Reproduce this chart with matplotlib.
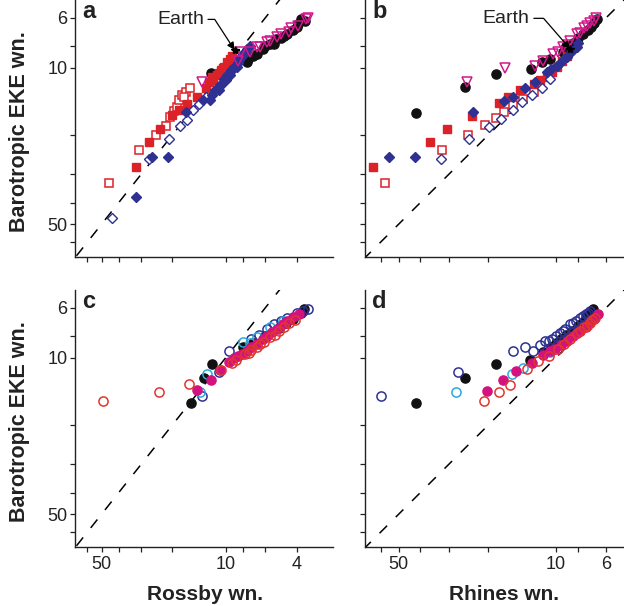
import matplotlib
matplotlib.use('Agg')
import matplotlib.pyplot as plt
import matplotlib.ticker as ticker
import numpy as np

plt.rcParams['font.family'] = ['Liberation Sans', 'DejaVu Sans']

RED = '#dc2229'
NAVY = '#2e3192'
MAG = '#d2188c'
BLACK = '#111111'
CYAN = '#2aa9e0'
PINK = '#d4127f'
ORANGE_RED = '#e0362c'

# ---------------- panel a : Rossby wn. vs barotropic EKE wn. ----------------
a_sq_open_x = [45.6, 30.6, 24.6, 21.8, 20.5, 19.6, 18.8, 18.3, 17.6, 16.8, 16.0, 17.2]
a_sq_open_y = [32.9, 23.3, 20.0, 18.2, 16.6, 15.6, 15.0, 14.0, 13.3, 12.9, 12.3, 13.6]
a_sq_fill_x = [32.0, 27.0, 23.6, 20.2, 18.3, 16.5, 14.5, 13.0, 12.5, 11.9, 11.8, 11.2,
               10.9, 10.7, 10.4, 10.2, 9.8, 9.5, 9.2]
a_sq_fill_y = [27.9, 21.5, 18.9, 16.3, 15.5, 14.6, 13.5, 12.4, 11.6, 11.0, 11.4, 10.8,
               10.6, 10.3, 10.0, 9.9, 9.47, 9.2, 8.85]
a_dm_fill_x = [32.0, 26.0, 21.2, 16.8, 13.5, 12.3, 12.0, 11.5, 11.0, 10.8, 10.7, 10.3,
               10.0, 9.8, 9.5, 9.4, 9.2, 9.0, 8.7, 8.6, 8.4, 8.2, 8.0, 7.9, 7.8, 7.6, 7.3]
a_dm_fill_y = [37.9, 25.1, 25.1, 15.8, 14.0, 13.9, 13.2, 12.6, 12.6, 12.0, 12.0, 11.3,
               11.4, 10.8, 10.8, 10.3, 10.3, 9.9, 9.97, 9.5, 9.3, 9.0, 8.7, 8.6, 8.6, 8.3, 8.0]
a_dm_open_x = [43.6, 27.0, 20.8, 18.0, 16.5, 15.3, 14.2, 13.0]
a_dm_open_y = [47.1, 25.6, 20.9, 18.2, 17.2, 15.5, 14.5, 13.5]
a_circ_x = [12.2, 7.65, 7.5, 7.0, 6.7, 6.2, 6.0, 5.62, 5.38, 5.2, 4.9, 4.7, 4.51, 4.2,
            4.0, 3.95, 3.78, 3.6]
a_circ_y = [10.6, 9.47, 9.16, 8.9, 8.69, 8.3, 8.0, 7.85, 7.85, 7.5, 7.4, 7.2, 7.10, 6.8,
            6.6, 6.41, 6.09, 6.2]
a_tri_x = [13.6, 8.55, 8.18, 7.33, 6.7, 6.41, 5.87, 5.62, 5.14, 4.93, 4.42, 4.32, 3.95,
           3.54, 3.46]
a_tri_y = [11.6, 9.31, 8.55, 8.55, 8.13, 8.13, 7.73, 7.60, 7.34, 7.10, 6.98, 6.64, 6.52,
           6.09, 5.99]
a_earth = (8.94, 8.35)

# ---------------- panel b : Rhines wn. vs barotropic EKE wn. ----------------
b_sq_open_x = [57.5, 32.2, 24.5, 20.7, 18.5, 17.0, 15.5, 14.0, 12.6]
b_sq_open_y = [32.9, 23.3, 20.0, 18.1, 16.8, 15.8, 14.7, 13.8, 12.9]
b_sq_fill_x = [64.9, 36.3, 30.4, 23.6, 18.0, 16.3, 14.5, 12.6, 11.8, 11.0, 10.4, 9.93,
               9.4, 8.96]
b_sq_fill_y = [27.9, 21.5, 18.9, 16.4, 14.4, 13.5, 12.6, 11.9, 11.4, 11.0, 10.5, 9.97,
               9.4, 8.85]
b_dm_fill_x = [55.1, 42.4, 23.3, 17.1, 15.6, 13.7, 12.4, 11.0, 10.5, 9.93, 9.6, 9.0,
               8.96, 8.5, 8.09, 8.0]
b_dm_fill_y = [25.1, 25.1, 15.8, 14.1, 13.5, 12.4, 11.6, 10.5, 10.2, 9.8, 9.5, 9.0,
               9.0, 8.4, 8.13, 7.8]
b_dm_open_x = [32.5, 24.4, 19.8, 17.6, 15.6, 14.2, 12.8, 11.6, 10.6]
b_dm_open_y = [25.6, 20.9, 18.4, 17.0, 15.5, 14.3, 13.3, 12.3, 11.3]
b_circ_x = [41.9, 25.4, 18.5, 12.9, 11.6, 10.6, 9.3, 9.0, 8.4, 8.0, 7.6, 7.2, 7.0,
            6.8, 6.6]
b_circ_y = [15.9, 12.2, 10.7, 10.2, 9.47, 9.16, 8.5, 8.0, 7.8, 7.4, 7.1, 6.8, 6.6,
            6.3, 6.09]
b_tri_x = [24.8, 16.9, 12.4, 11.4, 10.3, 9.8, 9.28, 8.9, 8.67, 8.09, 7.8, 7.56, 7.3,
           7.06, 6.8, 6.64]
b_tri_y = [11.6, 10.1, 9.8, 9.31, 8.69, 8.5, 8.13, 7.9, 7.60, 7.10, 7.0, 6.64, 6.5,
           6.31, 6.2, 6.02]
b_earth = (8.67, 8.26)

# ---------------- panel c : Rossby wn. ----------------
c_black_x = [15.8, 13.3, 12.0, 8.0, 7.0, 6.0, 5.0, 4.6, 4.2, 3.8, 3.62]
c_black_y = [16.0, 12.3, 10.7, 9.0, 8.6, 8.0, 7.4, 7.0, 6.7, 6.3, 6.09]
c_navy_x = [13.7, 10.9, 9.64, 7.2, 6.5, 5.9, 5.38, 4.9, 4.51, 4.0, 3.7, 3.46]
c_navy_y = [14.8, 11.6, 9.4, 8.3, 7.9, 7.5, 7.10, 6.9, 6.64, 6.3, 6.2, 6.09]
c_cyan_x = [13.9, 12.7, 8.0, 7.3, 6.7, 5.62, 4.8]
c_cyan_y = [14.2, 11.8, 8.55, 8.6, 8.13, 7.34, 6.9]
c_pink_x = [14.6, 12.1, 10.8, 9.64, 9.0, 8.55, 8.1, 7.65, 7.2, 6.7, 6.2, 5.87, 5.5,
            5.14, 4.8, 4.51, 4.2, 3.87]
c_pink_y = [14.0, 12.6, 11.4, 10.5, 10.1, 9.8, 9.6, 9.31, 9.0, 8.69, 8.3, 8.0, 7.7,
            7.46, 7.1, 6.86, 6.6, 6.41]
c_red_x = [49.3, 23.8, 16.2, 10.7, 9.3, 8.74, 7.83, 7.4, 7.2, 6.7, 6.4, 6.1, 5.62, 5.3,
           5.0, 4.7, 4.4, 4.1]
c_red_y = [15.7, 14.2, 13.1, 11.4, 10.6, 10.3, 9.63, 9.5, 9.3, 9.0, 8.7, 8.5, 8.13,
           7.9, 7.6, 7.3, 7.0, 6.8]

# ---------------- panel d : Rhines wn. ----------------
d_black_x = [41.9, 25.4, 18.5, 13.1, 11.4, 10.5, 10.0, 9.5, 9.0, 8.5, 8.0, 7.7, 7.4,
             7.1, 6.83]
d_black_y = [16.0, 12.3, 10.7, 10.3, 9.47, 9.0, 8.6, 8.3, 7.9, 7.6, 7.2, 7.0, 6.6,
             6.4, 6.09]
d_navy_x = [60.1, 27.4, 15.5, 13.8, 12.7, 11.8, 11.2, 10.8, 10.4, 10.0, 9.6, 9.3, 9.1,
            8.67, 8.4, 8.2, 7.82, 7.6, 7.4, 7.2, 7.06]
d_navy_y = [14.9, 11.6, 9.4, 9.0, 9.31, 8.8, 8.47, 8.4, 8.26, 8.0, 7.80, 7.6, 7.5,
            7.10, 7.0, 6.9, 6.64, 6.5, 6.4, 6.3, 6.19]
d_cyan_x = [27.8, 15.7, 14.0, 10.6]
d_cyan_y = [14.3, 11.8, 11.1, 9.47]
d_pink_x = [20.3, 17.3, 15.1, 12.8, 11.4, 10.7, 10.1, 9.5, 8.96, 8.4, 8.1, 7.82, 7.4,
            7.06, 6.8, 6.49]
d_pink_y = [14.1, 12.6, 11.5, 10.6, 9.7, 9.4, 9.16, 8.8, 8.41, 8.0, 7.8, 7.60, 7.3,
            6.98, 6.7, 6.37]
d_red_x = [21.0, 18.0, 16.1, 13.5, 12.0, 10.8, 9.77, 9.2, 8.67, 8.1, 7.8, 7.56, 7.3,
           7.1, 6.9, 6.71]
d_red_y = [15.7, 14.2, 13.2, 11.3, 10.4, 9.8, 9.16, 8.7, 8.26, 7.8, 7.6, 7.34, 7.2,
           7.0, 6.8, 6.64]

y_ticks = [60, 50, 40, 30, 20, 10, 8, 6]
y_labels = [50, 10, 6]
ross_ticks = [60, 50, 40, 30, 20, 10, 8, 6, 4]
ross_labels = [50, 10, 4]
rhin_ticks = [60, 50, 40, 30, 20, 10, 8, 6]
rhin_labels = [50, 10, 6]


def setup(ax, xlim, xticks, xlabels, show_x, show_y, letter):
    ax.set_xscale('log')
    ax.set_yscale('log')
    ax.set_xlim(*xlim)
    ax.set_ylim(70, 5.0)
    ax.xaxis.set_minor_locator(ticker.NullLocator())
    ax.yaxis.set_minor_locator(ticker.NullLocator())
    ax.set_xticks(xticks)
    ax.set_xticklabels([str(t) if (show_x and t in xlabels) else '' for t in xticks])
    ax.set_yticks(y_ticks)
    ax.set_yticklabels([str(t) if (show_y and t in y_labels) else '' for t in y_ticks])
    for s in ['top', 'right']:
        ax.spines[s].set_visible(False)
    for s in ['left', 'bottom']:
        ax.spines[s].set_linewidth(1.0)
        ax.spines[s].set_color('#222222')
    ax.tick_params(direction='out', length=3.5, width=0.9, labelsize=13,
                   colors='#222222', pad=2)
    ax.tick_params(axis='x', pad=3)
    ax.patch.set_alpha(0)
    ax.text(0.027, 0.93, letter, transform=ax.transAxes, fontsize=17,
            fontweight='bold', ha='left', va='baseline', color='#222222')
    d = np.array([100.0, 1.0])
    ax.plot(d, d, color='black', lw=1.1, dashes=(7, 8), zorder=1)


def earth(ax, pt, off, angB):
    ax.plot(pt[0], pt[1], marker='*', color='black', ms=6, zorder=6)
    ax.annotate('Earth', xy=pt, xytext=off, textcoords='offset points',
                ha='center', va='center', fontsize=14, color='#222222',
                arrowprops=dict(arrowstyle='-|>', color='black', lw=0.9,
                                connectionstyle='angle,angleA=0,angleB=%d,rad=0' % angB,
                                shrinkA=1, shrinkB=0, mutation_scale=11),
                zorder=7)


fig = plt.figure(figsize=(6.24, 6.06), dpi=100)
ax_a = fig.add_axes([75/624, 1-257/606, 258/624, 257/606])
ax_b = fig.add_axes([365/624, 1-257/606, 259/624, 257/606])
ax_c = fig.add_axes([75/624, 1-547/606, 258/624, 257/606])
ax_d = fig.add_axes([365/624, 1-547/606, 259/624, 257/606])

setup(ax_a, (70.5, 2.5), ross_ticks, ross_labels, False, True, 'a')
setup(ax_b, (70.5, 5.0), rhin_ticks, rhin_labels, False, False, 'b')
setup(ax_c, (70.5, 2.5), ross_ticks, ross_labels, True, True, 'c')
setup(ax_d, (70.5, 5.0), rhin_ticks, rhin_labels, True, False, 'd')

sq = dict(marker='s', ms=6.0, ls='none')
dm = dict(marker='D', ms=5.3, ls='none')
ci = dict(marker='o', ms=6.6, ls='none')
tr = dict(marker='v', ms=7.0, ls='none')

for ax, P in [(ax_a, 'a'), (ax_b, 'b')]:
    g = globals()
    ax.plot(g[P + '_sq_open_x'], g[P + '_sq_open_y'], mfc='white', mec=RED, mew=1.1, zorder=2, **sq)
    ax.plot(g[P + '_sq_fill_x'], g[P + '_sq_fill_y'], color=RED, zorder=3, **sq)
    ax.plot(g[P + '_dm_open_x'], g[P + '_dm_open_y'], mfc='white', mec=NAVY, mew=1.0, zorder=3, **dm)
    ax.plot(g[P + '_dm_fill_x'], g[P + '_dm_fill_y'], color=NAVY, zorder=4, **dm)
    ax.plot(g[P + '_circ_x'], g[P + '_circ_y'], color=BLACK, zorder=2.5, **ci)
    ax.plot(g[P + '_tri_x'], g[P + '_tri_y'], mfc='none', mec=MAG, mew=1.1, zorder=5, **tr)

earth(ax_a, a_earth, (-39, 22), -57)
earth(ax_b, b_earth, (-46, 22), -49)

for ax, P in [(ax_c, 'c'), (ax_d, 'd')]:
    g = globals()
    ax.plot(g[P + '_black_x'], g[P + '_black_y'], color=BLACK, zorder=2, **ci)
    ax.plot(g[P + '_navy_x'], g[P + '_navy_y'], mfc='none', mec=NAVY, mew=1.1, zorder=3, **ci)
    ax.plot(g[P + '_cyan_x'], g[P + '_cyan_y'], mfc='none', mec=CYAN, mew=1.1, zorder=3, **ci)
    ax.plot(g[P + '_pink_x'], g[P + '_pink_y'], color=PINK, zorder=4, **ci)
    ax.plot(g[P + '_red_x'], g[P + '_red_y'], mfc='none', mec=ORANGE_RED, mew=1.1, zorder=5, **ci)

fig.text(20/624, 1-132/606, 'Barotropic EKE wn.', rotation=90, ha='center', va='center',
         fontsize=15.5, fontweight='bold', color='#222222')
fig.text(20/624, 1-422/606, 'Barotropic EKE wn.', rotation=90, ha='center', va='center',
         fontsize=15.5, fontweight='bold', color='#222222')
fig.text(205/624, 1-594/606, 'Rossby wn.', ha='center', va='center',
         fontsize=15, fontweight='bold', color='#222222')
fig.text(504/624, 1-594/606, 'Rhines wn.', ha='center', va='center',
         fontsize=15, fontweight='bold', color='#222222')

fig.savefig('out.png', dpi=100)
